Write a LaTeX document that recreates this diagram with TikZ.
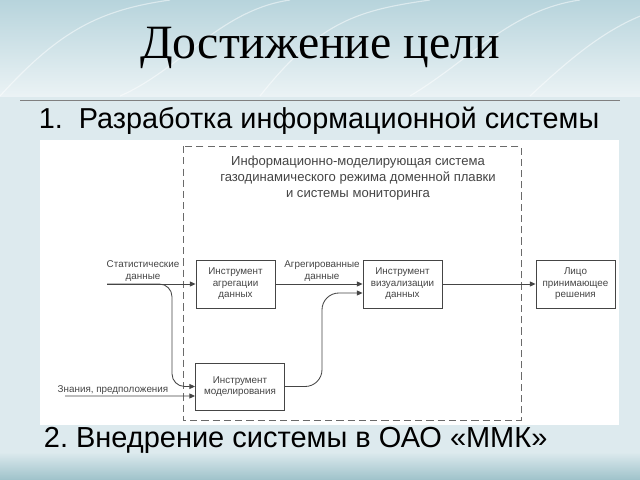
\documentclass[tikz,border=0pt]{standalone}
\usepackage{fontspec}
\setmainfont{Liberation Sans}
\newfontfamily\titlefont{Liberation Serif}
\usetikzlibrary{arrows.meta,positioning,calc}
\definecolor{slide}{HTML}{DDEAEE}
\definecolor{band}{HTML}{B7D4DC}
\definecolor{sea}{HTML}{9EC2CA}
\definecolor{ink}{HTML}{454545}

\begin{document}
\begin{tikzpicture}[x=0.025cm, y=-0.025cm,
    every node/.style={font=\fontsize{7}{8.2}\selectfont, text=ink},
    box/.style={rectangle, draw=ink, line width=0.6pt, fill=white,
        minimum width=1.975cm, minimum height=1.2cm, align=center, inner sep=1pt},
    lbl/.style={align=center, inner sep=1pt},
    arr/.style={-{Triangle[length=4pt,width=3.5pt]}, draw=ink, line width=0.6pt},
]
\useasboundingbox (0,0) rectangle (640,480);

% Slide background
\begin{scope}
\clip (0,0) rectangle (640,480);
\fill[slide] (0,0) rectangle (640,480);
\shade[top color=band, bottom color=slide!60!white] (0,0) rectangle (640,96);
\foreach \a/\b in {60/30, 180/70, 320/20, 470/60, 590/40}
    \draw[white, opacity=0.5, line width=0.8pt] (\a-60,96) .. controls (\a,\b) and (\a+40,10) .. (\a+110,0);
\shade[top color=slide, bottom color=sea] (0,452) rectangle (640,480);
\end{scope}

% Titles
\node[font=\titlefont\fontsize{34}{38}\selectfont, text=black] (title) at (320,48) {Достижение цели};
\draw[gray, line width=0.6pt] (20,100) -- (620,100);
\node[font=\fontsize{20.5}{24}\selectfont, text=black, anchor=west] (goal1) at (34,121)
    {1.\hspace{0.55em}Разработка информационной системы};
\node[font=\fontsize{20.6}{25}\selectfont, text=black, anchor=west] (goal2) at (39,440)
    {2.\ Внедрение системы в ОАО «ММК»};

% White panel with the system boundary
\fill[white] (40,140) rectangle (619,425);
\draw[ink!80, dashed, line width=0.7pt, dash pattern=on 5pt off 3pt] (183,146) rectangle (521,420);
\node[lbl, font=\fontsize{9.3}{11.3}\selectfont] (system) at (358,178)
    {Информационно-моделирующая система\\газодинамического режима доменной плавки\\и системы мониторинга};

% Blocks
\node[box] (agg) at (235.5,284) {Инструмент\\агрегации\\данных};
\node[box] (vis) at (402.5,284) {Инструмент\\визуализации\\данных};
\node[box] (person) at (575.5,284) {Лицо\\принимающее\\решения};
\node[box, minimum width=2.225cm, minimum height=1.175cm] (model) at (240,386.5)
    {Инструмент\\моделирования};

% Inputs
\coordinate (statin) at (107,284);
\coordinate (knowin) at (65,396);
\node[lbl] (statlbl) at (143,271) {Статистические\\данные};
\node[lbl] (knowlbl) at (113,390) {Знания, предположения};
\node[lbl] (agglbl) at (322,271) {Агрегированные\\данные};

% Connectors
\draw[arr] (statin) -- (agg.west);
\draw[arr, rounded corners=9] (statin) -| (172,386.5) -- (model.west);
\draw[arr] (knowin) -- ($(model.west)+(0,9.5)$);
\draw[arr] (agg.east) -- (vis.west);
\draw[arr, rounded corners=12] (model.east) -| (322,293) -- ($(vis.west)+(0,9)$);
\draw[arr] (vis.east) -- (person.west);

\end{tikzpicture}
\end{document}
